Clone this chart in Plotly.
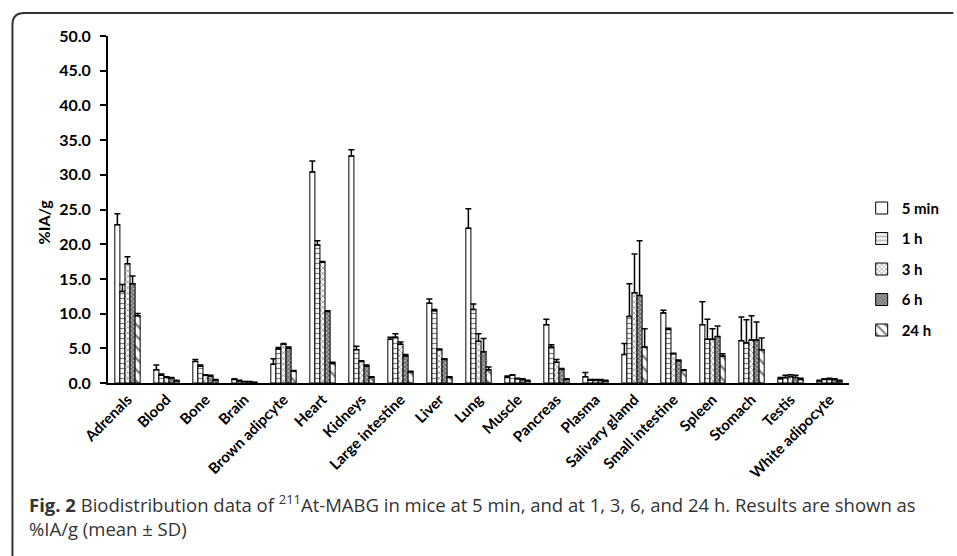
import plotly.graph_objects as go

categories = ["Adrenals", "Blood", "Bone", "Brain", "Brown adipcyte", "Heart", "Kidneys",
              "Large intestine", "Liver", "Lung", "Muscle", "Pancreas", "Plasma",
              "Salivary glamd", "Small intestine", "Spleen", "Stomach", "Testis",
              "White adipocyte"]

series_names = ["5 min", "1 h", "3 h", "6 h", "24 h"]

mean_5min = [22.8, 1.9, 3.1, 0.5, 2.7, 30.4, 32.7, 6.3, 11.5, 22.3, 0.8, 8.4, 0.9, 4.1, 10.1, 8.4, 6.1, 0.6, 0.3]
sd_5min   = [1.6, 0.7, 0.3, 0.1, 0.8, 1.6, 0.9, 0.3, 0.6, 2.8, 0.2, 0.8, 0.6, 1.6, 0.4, 3.3, 3.4, 0.2, 0.1]
mean_1h   = [13.2, 1.1, 2.4, 0.3, 4.9, 19.9, 4.8, 6.6, 10.4, 10.6, 1.1, 5.2, 0.4, 9.6, 7.7, 6.3, 5.8, 0.8, 0.5]
sd_1h     = [1.0, 0.2, 0.2, 0.1, 0.2, 0.6, 0.5, 0.5, 0.2, 0.8, 0.1, 0.3, 0.1, 4.7, 0.2, 2.9, 3.3, 0.3, 0.1]
mean_3h   = [17.2, 0.8, 1.1, 0.2, 5.6, 17.4, 3.1, 5.6, 4.8, 6.0, 0.6, 3.0, 0.4, 13.0, 4.2, 6.3, 6.2, 0.9, 0.5]
sd_3h     = [1.0, 0.1, 0.1, 0.0, 0.1, 0.1, 0.1, 0.3, 0.1, 1.1, 0.1, 0.4, 0.1, 5.6, 0.1, 1.5, 3.5, 0.3, 0.2]
mean_6h   = [14.3, 0.7, 1.0, 0.2, 5.0, 10.3, 2.4, 3.9, 3.4, 4.5, 0.5, 2.0, 0.4, 12.6, 3.2, 6.7, 6.2, 0.8, 0.5]
sd_6h     = [1.1, 0.1, 0.1, 0.0, 0.2, 0.1, 0.2, 0.2, 0.1, 1.9, 0.1, 0.1, 0.1, 7.9, 0.1, 1.5, 2.6, 0.3, 0.1]
mean_24h  = [9.7, 0.3, 0.4, 0.1, 1.7, 2.8, 0.8, 1.6, 0.8, 1.9, 0.3, 0.5, 0.3, 5.2, 1.8, 3.9, 4.8, 0.5, 0.3]
sd_24h    = [0.3, 0.1, 0.1, 0.0, 0.1, 0.2, 0.1, 0.1, 0.1, 0.4, 0.1, 0.1, 0.1, 2.6, 0.1, 0.3, 1.7, 0.2, 0.1]

y_ticks = [0, 5, 10, 15, 20, 25, 30, 35, 40, 45, 50]

means = [mean_5min, mean_1h, mean_3h, mean_6h, mean_24h]
sds = [sd_5min, sd_1h, sd_3h, sd_6h, sd_24h]
patterns = [
    dict(shape="", fgcolor="black", bgcolor="white"),
    dict(shape="-", size=5, solidity=0.25, fgcolor="black", bgcolor="white"),
    dict(shape="x", size=4, solidity=0.35, fgcolor="#222222", bgcolor="white"),
    dict(shape="x", size=3, solidity=0.6, fgcolor="#111111", bgcolor="#bbbbbb"),
    dict(shape="\\", size=8, solidity=0.3, fgcolor="black", bgcolor="white"),
]

fig = go.Figure()
for name, m, s, p in zip(series_names, means, sds, patterns):
    fig.add_trace(go.Bar(
        name=name, x=categories, y=m,
        marker=dict(color="white", pattern=p, line=dict(color="black", width=1)),
        error_y=dict(type="data", array=s, arrayminus=[0] * len(s), symmetric=False,
                     color="black", thickness=1.5, width=3),
        legendgroup=name,
    ))

# plot area geometry (pixels)
L, R, T, B = 108, 868, 36, 383.5
W, H = R - L, B - T

def px(xp):
    return (xp - L) / W

def py(yp):
    return (B - yp) / H

# rounded frame
r = 12
path = (f"M {px(10)},{py(575)} L {px(10)},{py(13 + r)} "
        f"Q {px(10)},{py(13)} {px(10 + r)},{py(13)} L {px(975)},{py(13)}")
fig.add_shape(type="path", path=path, xref="paper", yref="paper",
              line=dict(color="#333333", width=2))

font_main = "Lato, 'Open Sans', sans-serif"

fig.add_annotation(text="<b>%IA/g</b>", xref="paper", yref="paper",
                   x=px(42), y=py(222), xanchor="center", yanchor="middle",
                   textangle=-90, showarrow=False,
                   font=dict(family=font_main, size=16, color="black"))

fig.add_annotation(
    text="<b>Fig. 2</b> Biodistribution data of <sup>211</sup>At-MABG in mice at 5 min, and at 1, 3, 6, and 24 h. Results are shown as",
    xref="paper", yref="paper", x=px(25), y=py(504), xanchor="left", yanchor="middle",
    showarrow=False, font=dict(family="'Open Sans', sans-serif", size=18.5, color="#333333"))
fig.add_annotation(
    text="%IA/g (mean ± SD)",
    xref="paper", yref="paper", x=px(25), y=py(529), xanchor="left", yanchor="middle",
    showarrow=False, font=dict(family="'Open Sans', sans-serif", size=18.5, color="#333333"))

fig.update_layout(
    width=957, height=556,
    margin=dict(l=L, r=957 - R, t=T, b=556 - B),
    plot_bgcolor="white", paper_bgcolor="white",
    barmode="group", bargap=0.35, bargroupgap=0,
    showlegend=True,
    legend=dict(x=px(881), y=py(192), xanchor="left", yanchor="top",
                font=dict(family=font_main, size=15, color="black", weight="bold"),
                tracegroupgap=8, itemwidth=30, bgcolor="rgba(0,0,0,0)"),
    font=dict(family=font_main, color="black"),
)
fig.update_xaxes(showline=True, linecolor="black", linewidth=2, ticks="",
                 tickangle=-45, tickfont=dict(family=font_main, size=15, color="black", weight="bold"),
                 showgrid=False)
fig.update_yaxes(range=[0, 50], tickvals=y_ticks, tickformat=".1f",
                 showline=True, linecolor="black", linewidth=2,
                 ticks="outside", ticklen=6, tickwidth=1.5, tickcolor="black",
                 ticklabelstandoff=6,
                 tickfont=dict(family=font_main, size=16, color="black", weight="bold"),
                 showgrid=False, zeroline=False)

fig.write_html("out.html")
